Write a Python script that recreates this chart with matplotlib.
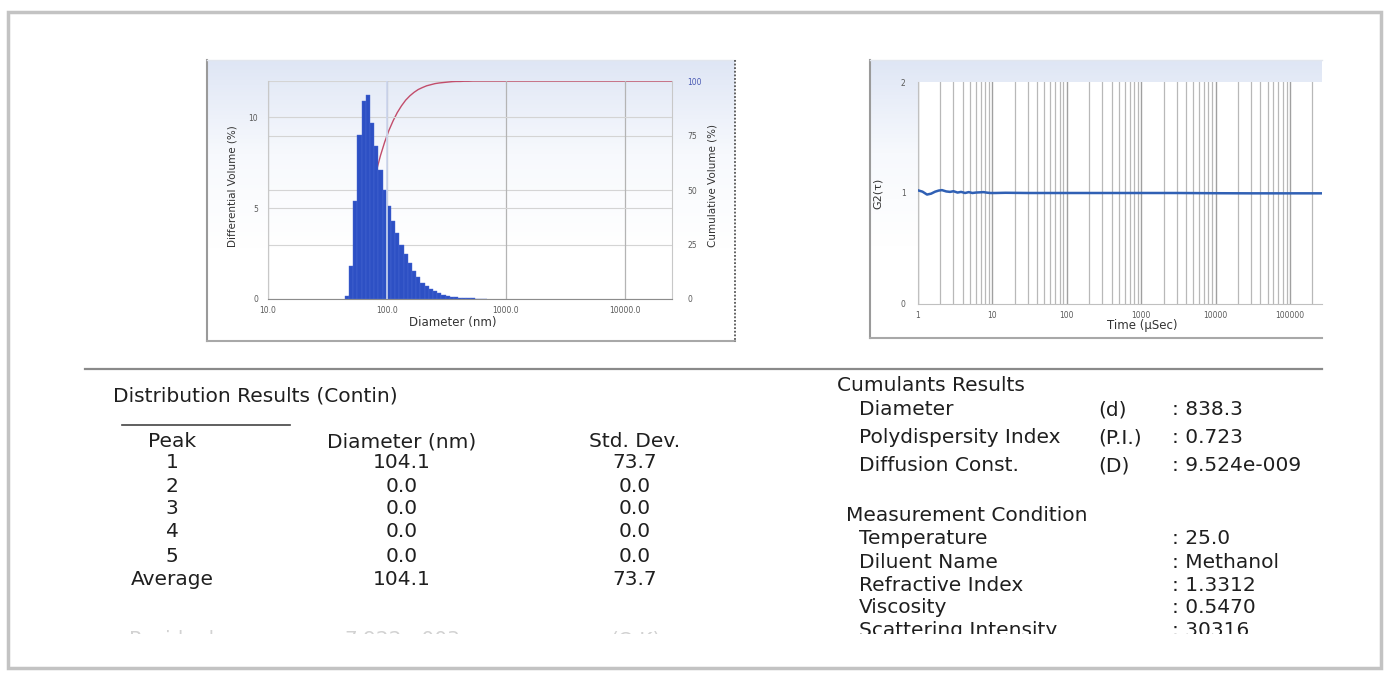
import numpy as np
import matplotlib
matplotlib.use("Agg")
import matplotlib.pyplot as plt
from matplotlib.patches import Rectangle
from matplotlib.colors import LinearSegmentedColormap
from matplotlib.ticker import LogLocator, NullFormatter, NullLocator

plt.rcParams["font.family"] = ["DejaVu Sans"]

W, H = 1388, 675

# --- size distribution (Contin) ---
BIN_D = [46.1, 50.0, 54.2, 58.8, 63.8, 69.2, 75.1, 81.4, 88.3, 95.8,
         103.9, 112.7, 122.2, 132.6, 143.8, 156.0, 169.2, 183.5, 199.0, 215.9,
         234.1, 254.0, 275.5, 298.8, 324.1, 351.5, 381.2, 413.5, 448.5, 486.4,
         527.6, 572.2, 620.6, 673.1]
DIFF_VOL = [0.18, 1.83, 5.4, 9.05, 10.9, 11.25, 9.7, 8.4, 7.1, 6.0,
            5.1, 4.3, 3.65, 3.0, 2.5, 2.0, 1.55, 1.22, 0.9, 0.73,
            0.55, 0.42, 0.31, 0.24, 0.18, 0.13, 0.09, 0.07, 0.05, 0.04,
            0.03, 0.02, 0.02, 0.01]
CUM_D = BIN_D + [1000.0, 25000.0]
CUM_VOL = [0.2, 2.1, 7.6, 17.0, 28.2, 39.8, 49.8, 58.5, 65.8, 72.0,
           77.3, 81.7, 85.5, 88.6, 91.2, 93.2, 94.8, 96.1, 97.0, 97.8,
           98.3, 98.8, 99.1, 99.3, 99.5, 99.7, 99.8, 99.8, 99.9, 99.9,
           100.0, 100.0, 100.0, 100.0, 100.0, 100.0]
DIAM_TICKS = [10, 100, 1000, 10000]
DIAM_TICKLABELS = ["10.0", "100.0", "1000.0", "10000.0"]

# --- correlation function ---
TAU = [1, 1.15, 1.32, 1.5, 1.7, 1.9, 2.1, 2.4, 2.7, 3.0, 3.4, 3.8, 4.3,
       4.8, 5.4, 6.0, 6.8, 7.6, 8.5, 9.5, 11, 15, 30, 100, 300, 1000,
       3000, 10000, 30000, 100000, 270000]
G2 = [1.024, 1.012, 0.986, 0.994, 1.012, 1.022, 1.026, 1.014, 1.010, 1.016,
      1.004, 1.010, 1.000, 1.008, 1.000, 1.004, 1.006, 1.008, 1.003, 1.000,
      1.000, 1.002, 1.000, 1.000, 1.000, 1.000, 1.000, 0.998, 0.997, 0.997,
      0.997]
TIME_TICKS = [1, 10, 100, 1000, 10000, 100000]

# --- result tables ---
PEAK_NAMES = ["1", "2", "3", "4", "5", "Average"]
PEAK_DIAM = ["104.1", "0.0", "0.0", "0.0", "0.0", "104.1"]
PEAK_SD = ["73.7", "0.0", "0.0", "0.0", "0.0", "73.7"]

CUM_NAMES = ["Diameter", "Polydispersity Index", "Diffusion Const."]
CUM_SYMBOLS = ["(d)", "(P.I.)", "(D)"]
CUM_VALUES = ["838.3", "0.723", "9.524e-009"]

MEAS_NAMES = ["Temperature", "Diluent Name", "Refractive Index", "Viscosity",
              "Scattering Intensity"]
MEAS_VALUES = ["25.0", "Methanol", "1.3312", "0.5470", "30316"]

BAR = "#2d50c4"
CURVE = "#c24d6b"
LINE = "#3060b4"
INK = "#1f1f1f"
TICK = "#5a5a5a"


def box(l, t, r, b):
    return [l / W, 1 - b / H, (r - l) / W, (b - t) / H]


fig = plt.figure(figsize=(W / 100, H / 100), dpi=100)
fig.patch.set_facecolor("white")

bg = fig.add_axes([0, 0, 1, 1], zorder=0)
bg.axis("off")

bg.add_patch(Rectangle((8, 12), 1373, 656, facecolor="white",
                       edgecolor="#c3c3c3", lw=2.5))

grad = np.linspace(0, 1, 200)[:, None]
cmap = LinearSegmentedColormap.from_list("panel", ["#dfe6f5", "#f7f9fd", "#ffffff", "#ffffff"])
for l, t, r, b in [(207, 60, 735, 341), (870, 60, 1322, 338)]:
    bg.imshow(grad, extent=(l, r, b, t), cmap=cmap, aspect="auto", zorder=1)
    bg.plot([l, l], [t, b], color="#9a9a9a", lw=1.5, zorder=2)
    bg.plot([l, r], [b, b], color="#a8a8a8", lw=1.5, zorder=2)
    bg.plot([l, r], [t, t], color="#e2e6ee", lw=1, zorder=2)
bg.plot([735, 735], [60, 342], color="#555555", lw=1.3, ls=(0, (1, 1)), zorder=2)
bg.set_xlim(0, W)
bg.set_ylim(H, 0)

# separators
bg.plot([85, 1322], [369, 369], color="#8a8a8a", lw=1.6)
bg.plot([122, 290], [425, 425], color="#444444", lw=1.2)

TXT = dict(fontsize=14.5, color=INK, va="baseline")

# Distribution results (left)
bg.text(113, 401, "Distribution Results (Contin)", **TXT)
cols = [172, 402, 635]
for x, s in zip(cols, ["Peak", "Diameter (nm)", "Std. Dev."]):
    bg.text(x, 447, s, ha="center", **TXT)
row_y = [462, 486, 508, 531, 556, 579]
for y, n, d, sd in zip(row_y, PEAK_NAMES, PEAK_DIAM, PEAK_SD):
    for x, s in zip(cols, [n, d, sd]):
        bg.text(x, y + 6, s, ha="center", **TXT)
# partly hidden row at the bottom edge
for x, s in zip(cols, ["Residual", "7.922e-003", "(O.K)"]):
    bg.text(x, 645, s, ha="center", fontsize=14.5, color="#d2d2d2", va="baseline")

# Cumulants results (right)
bg.text(837, 391, "Cumulants Results", **TXT)
for y, n, sym, v in zip([409, 437, 465], CUM_NAMES, CUM_SYMBOLS, CUM_VALUES):
    bg.text(859, y + 6, n, **TXT)
    bg.text(1098, y + 6, sym, **TXT)
    bg.text(1172, y + 6, ": " + v, **TXT)

bg.text(846, 521, "Measurement Condition", **TXT)
for y, n, v in zip([538, 562, 585, 607, 630], MEAS_NAMES, MEAS_VALUES):
    bg.text(859, y + 6, n, **TXT)
    bg.text(1172, y + 6, ": " + v, **TXT)

# the screenshot is cut off here
bg.add_patch(Rectangle((14, 633.5), 1360, 31, facecolor="white",
                       edgecolor="none", zorder=20))

# ---------------- size distribution chart ----------------
ax = fig.add_axes(box(268, 81, 672, 299))
ax2 = ax.twinx()
ax.set_zorder(3)
ax2.set_zorder(2)
ax.patch.set_visible(False)
ax2.set_facecolor("white")

d = np.array(BIN_D)
mids = np.sqrt(d[:-1] * d[1:])
left = np.concatenate([[d[0] ** 2 / mids[0]], mids])
right = np.concatenate([mids, [d[-1] ** 2 / mids[-1]]])
ax.bar(left, DIFF_VOL, width=right - left, align="edge", color=BAR,
       edgecolor="#4a6ad4", linewidth=0.3, zorder=2)

ax.set_xscale("log")
ax.set_xlim(10, 25000)
ax.set_ylim(0, 12)
ax.set_xticks(DIAM_TICKS)
ax.set_xticklabels(DIAM_TICKLABELS)
ax.xaxis.set_minor_locator(NullLocator())
ax.xaxis.set_minor_formatter(NullFormatter())
ax.set_yticks([0, 5, 10])
ax.set_axisbelow(True)
ax.grid(axis="y", color="#d4d4d4", lw=0.8)
ax.grid(axis="x", color="#b4b4b4", lw=0.9)
ax.axvline(100, color="#cdd6ef", lw=1.2, zorder=3)
ax.tick_params(length=0, labelsize=5.5, labelcolor=TICK)
ax.tick_params(axis="y", pad=7)
ax.tick_params(axis="x", pad=5)

ax2.plot(CUM_D, CUM_VOL, color=CURVE, lw=1.0, zorder=2)
ax2.set_ylim(0, 100)
ax2.set_yticks([0, 25, 50, 75, 100])
ax2.grid(axis="y", color="#d4d4d4", lw=0.8)
ax2.tick_params(length=0, labelsize=5.5, labelcolor=TICK, pad=11)
ax2.get_yticklabels()[-1].set_color("#4a5ab4")

for s in ["top", "right"]:
    ax.spines[s].set_visible(False)
for s in ["top", "left", "bottom"]:
    ax2.spines[s].set_visible(False)
ax.spines["left"].set_color("#c8c8c8")
ax.spines["bottom"].set_color("#8c8c8c")
ax2.spines["right"].set_color("#c8c8c8")

ax.set_xlabel("Diameter (nm)", fontsize=8.5, color="#333333")
ax.xaxis.set_label_coords(0.458, -0.11)
ax.xaxis.label.set_va("center")
ax.set_ylabel("Differential Volume (%)", fontsize=7.5, color="#333333")
ax.yaxis.set_label_coords(-0.087, 0.52)
ax.yaxis.label.set_va("center")
ax2.set_ylabel("Cumulative Volume (%)", fontsize=7.5, color="#333333", rotation=90)
ax2.yaxis.set_label_coords(1.101, 0.52)
ax2.yaxis.label.set_va("center")

# ---------------- correlation chart ----------------
ax3 = fig.add_axes(box(918, 82, 1322, 304), zorder=2)
ax3.set_facecolor("white")
ax3.plot(TAU, G2, color=LINE, lw=1.8, zorder=3)
ax3.set_xscale("log")
ax3.set_xlim(1, 2.7e5)
ax3.set_ylim(0, 2)
ax3.set_yticks([0, 1, 2])
ax3.set_xticks(TIME_TICKS)
ax3.set_xticklabels([str(t) for t in TIME_TICKS])
ax3.xaxis.set_minor_locator(LogLocator(base=10, subs=np.arange(2, 10)))
ax3.xaxis.set_minor_formatter(NullFormatter())
ax3.set_axisbelow(True)
ax3.grid(axis="x", which="major", color="#a0a0a0", lw=1.0)
ax3.grid(axis="x", which="minor", color="#b8b8b8", lw=0.9)
ax3.tick_params(which="both", length=0, labelsize=5.5, labelcolor=TICK)
ax3.tick_params(axis="y", pad=9)
ax3.tick_params(axis="x", pad=5)
for s in ["top", "right"]:
    ax3.spines[s].set_visible(False)
ax3.spines["left"].set_color("#c0c0c0")
ax3.spines["bottom"].set_color("#c0c0c0")
ax3.set_xlabel("Time (μSec)", fontsize=8.5, color="#333333")
ax3.xaxis.set_label_coords(0.554, -0.095)
ax3.xaxis.label.set_va("center")
ax3.set_ylabel("G2(τ)", fontsize=8, color="#333333")
ax3.yaxis.set_label_coords(-0.1, 0.5)
ax3.yaxis.label.set_va("center")

fig.savefig("out.png", dpi=100, facecolor="white")
